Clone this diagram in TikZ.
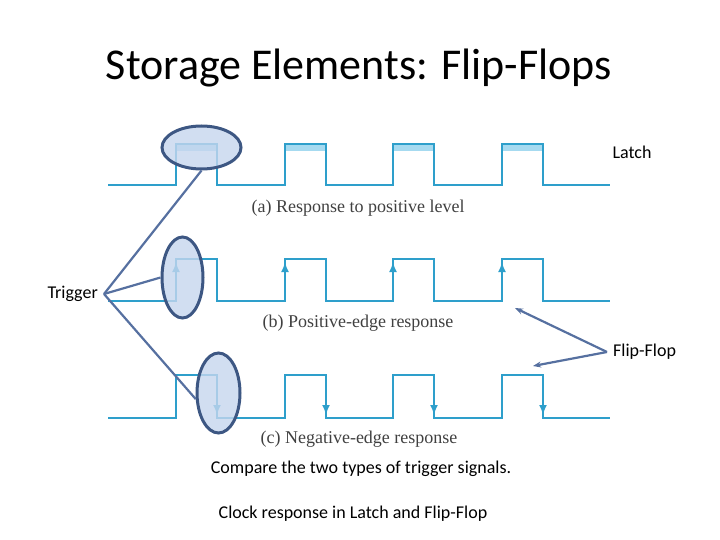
\documentclass[tikz,border=0pt]{standalone}
\usepackage{fontspec}
\setmainfont{Carlito}
\newfontfamily\figfont{Liberation Serif}
\usepackage{tikz}
\usetikzlibrary{arrows.meta}
\usetikzlibrary{shapes.geometric}
\usetikzlibrary{positioning}

\definecolor{wavecyan}{HTML}{2E9FCB}
\definecolor{stripblue}{HTML}{A6DAF0}
\definecolor{ringblue}{HTML}{3D5783}
\definecolor{ringfill}{HTML}{C6D6EE}
\definecolor{pointer}{HTML}{5670A0}

\tikzset{
  wave/.style={wavecyan, line width=2.2pt},
  strip/.style={fill=stripblue},
  ring/.style={ellipse, draw=ringblue, line width=3pt, fill=ringfill, fill opacity=0.8, inner sep=0pt},
  pointerline/.style={pointer, line width=2.2pt},
  lbl/.style={font=\fontsize{18}{21}\selectfont},
  figlbl/.style={font=\figfont\fontsize{18}{20}\selectfont, text=black!75}
}

\newcommand{\clockline}[2]{%
  \draw[wave] (108,#1) -| (176,#2) -| (217,#1) -| (285,#2) -| (326,#1)
    -| (393,#2) -| (434,#1) -| (502,#2) -| (543,#1) -- (610,#1);}

\begin{document}
\begin{tikzpicture}[x=1pt, y=-1pt]
        \useasboundingbox (0,0) rectangle (720,540);
        \node[font=\fontsize{44}{50}\selectfont] (title) at (359,68) {Storage Elements: Flip-Flops};

        % (a) level response
        \foreach \x in {176,285,393,502}
            \fill[strip] (\x,144) rectangle ++(41,7.5);
        \clockline{185}{144}
        \node[figlbl] (capa) at (358,208) {(a) Response to positive level};

        % (b) positive edge
        \clockline{301}{259}
        \foreach \x in {176,285,393,502}
            \draw[wave, -{Latex[length=10pt,width=8pt]}] (\x,288) -- (\x,262);
        \node[figlbl] (capb) at (358,323) {(b) Positive-edge response};

        % (c) negative edge
        \clockline{418}{375}
        \foreach \x in {217,326,434,543}
            \draw[wave, -{Latex[length=10pt,width=8pt]}] (\x,390) -- (\x,415);
        \node[figlbl] (capc) at (359,439) {(c) Negative-edge response};

        \node[ring, minimum width=79pt, minimum height=43pt] (lvl) at (201.5,147.5) {};
        \node[ring, minimum width=41pt, minimum height=81pt] (pos) at (182.5,277.5) {};
        \node[ring, minimum width=43pt, minimum height=80pt] (neg) at (218.5,393) {};

        \node[lbl] (latch) at (632,152) {Latch};
        \node[lbl, anchor=east, inner sep=6pt] (trig) at (104,294) {Trigger};
        \node[lbl, anchor=west, inner sep=6pt] (ff) at (607,352) {Flip-Flop};

        \draw[pointerline] (trig.east) -- (lvl.south);
        \draw[pointerline] (trig.east) -- (pos.west);
        \draw[pointerline] (trig.east) -- (neg.195);

        \coordinate (ffb) at (515,308);
        \coordinate (ffc) at (533,366);
        \draw[pointerline, -{Stealth[length=8pt,width=6pt]}] (ff.west) -- (ffb);
        \draw[pointerline, -{Stealth[length=8pt,width=6pt]}] (ff.west) -- (ffc);

        \node[lbl] (cmp) at (361,469) {Compare the two types of trigger signals.};
        \node[lbl] (clk) at (353,514) {Clock response in Latch and Flip-Flop};
    \end{tikzpicture}
\end{document}
